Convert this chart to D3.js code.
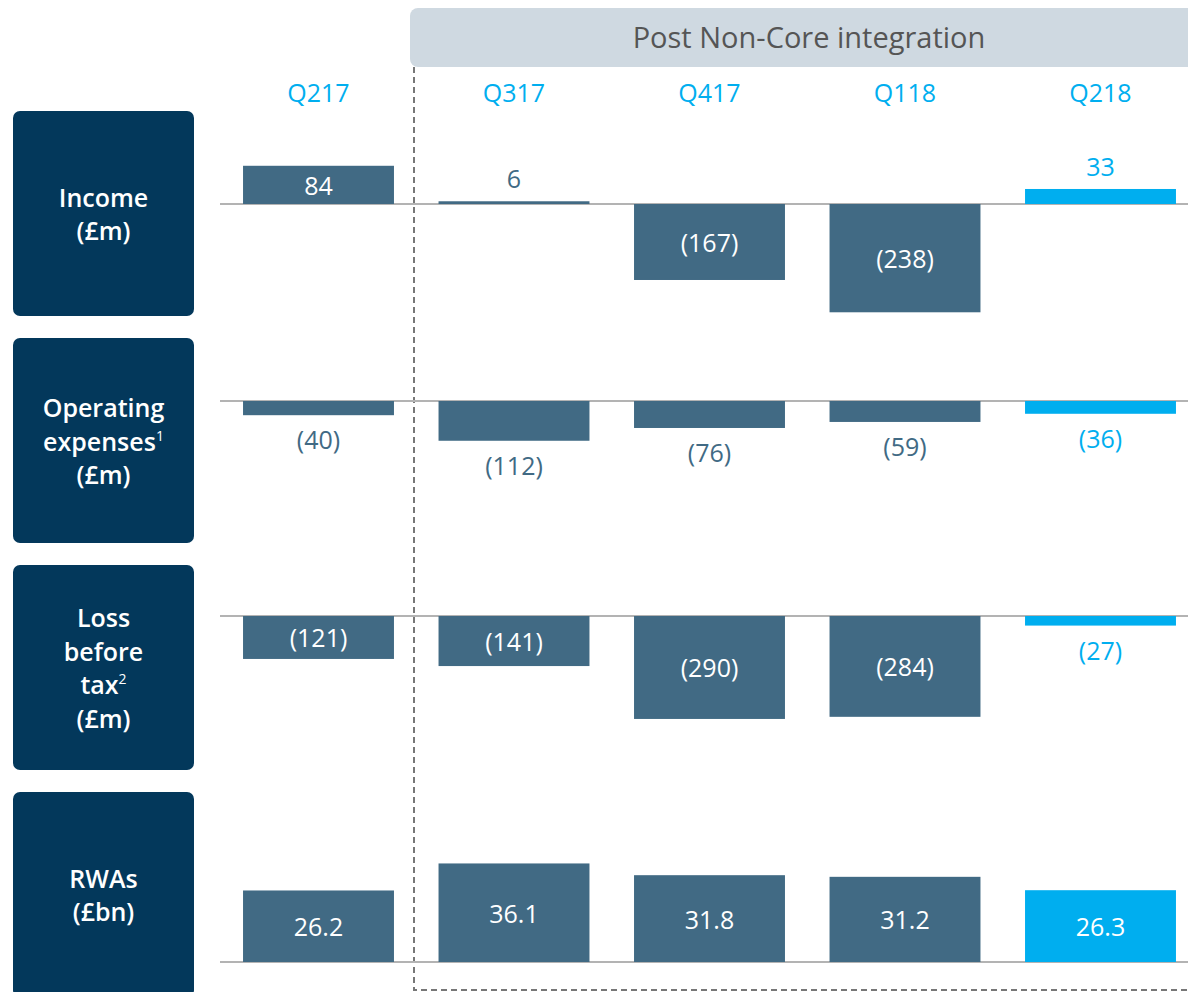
<!DOCTYPE html>
<html>
<head>
<meta charset="utf-8">
<script src="https://cdn.jsdelivr.net/npm/d3@7"></script>
<style>
  html, body { margin: 0; padding: 0; background: white; }
  text { font-family: "Open Sans", "Noto Sans", sans-serif; }
</style>
</head>
<body>
<svg id="chart_svg" width="1188" height="992"></svg>
<script>
var quarters = ['Q217', 'Q317', 'Q417', 'Q118', 'Q218'];
var income = [84, 6, -167, -238, 33];
var opex = [-40, -112, -76, -59, -36];
var lossBeforeTax = [-121, -141, -290, -284, -27];
var rwas = [26.2, 36.1, 31.8, 31.2, 26.3];
var bannerText = 'Post Non-Core integration';

var dark = '#416a84';
var cyan = '#00aeef';
var boxBlue = '#03385b';

function createChart(){
  var svg = d3.select('#chart_svg');
  var width = parseFloat(svg.attr('width'));

  var x = d3.scaleBand().domain(quarters).range([220.75, 1198.25]).paddingInner(0.228).paddingOuter(0.114);

  /* Banner */
  svg.append('rect')
    .attr('x', 410).attr('y', 8).attr('width', width).attr('height', 59).attr('rx', 8).attr('ry', 8)
    .style('fill', '#cfd9e1');
  svg.append('text')
    .attr('x', 809).attr('y', 48)
    .style('text-anchor', 'middle').style('font-size', '29px').style('fill', '#555')
    .text(bannerText);

  /* Dashed frame */
  svg.append('path')
    .attr('d', d3.line()([[414, 67], [414, 990], [width, 990]]))
    .style('fill', 'none').style('stroke', '#777').style('stroke-width', 2).style('stroke-dasharray', '6,4');

  /* Quarter labels */
  svg.selectAll('.qlabel').data(quarters).enter().append('text')
    .attr('class', 'qlabel')
    .attr('x', d => x(d) + x.bandwidth() / 2).attr('y', 102)
    .style('text-anchor', 'middle').style('font-size', '25px').style('fill', cyan)
    .text(d => d);

  var panels = [
    { lines: [['Income'], ['(£m)']], values: income, boxY: 111, base: 204, k: 0.455, minInside: 30, fmt: d3.format('d') },
    { lines: [['Operating'], ['expenses', '1'], ['(£m)']], values: opex, boxY: 338, base: 401, k: 0.355, minInside: Infinity, fmt: d3.format('d') },
    { lines: [['Loss'], ['before'], ['tax', '2'], ['(£m)']], values: lossBeforeTax, boxY: 565, base: 616, k: 0.355, minInside: 30, fmt: d3.format('d') },
    { lines: [['RWAs'], ['(£bn)']], values: rwas, boxY: 792, base: 962, k: 2.73, minInside: 30, fmt: d3.format('.1f') }
  ];

  panels.forEach(p => {
    /* Row label box */
    svg.append('rect')
      .attr('x', 13).attr('y', p.boxY).attr('width', 181).attr('height', 205).attr('rx', 7).attr('ry', 7)
      .style('fill', boxBlue);
    var lh = 33.5;
    var cy = p.boxY + 102.5;
    var firstY = cy - (p.lines.length - 1) * lh / 2;
    p.lines.forEach((ln, i) => {
      var t = svg.append('text')
        .attr('x', 103.5).attr('y', firstY + i * lh)
        .attr('dominant-baseline', 'central')
        .style('text-anchor', 'middle').style('font-size', '25px').style('font-weight', 600).style('fill', 'white');
      t.append('tspan').text(ln[0]);
      if (ln[1]) t.append('tspan').attr('dy', -6).style('font-size', '14px').style('font-weight', 400).text(ln[1]);
    });

    var ext = d3.extent(p.values.concat([0]));
    var y = d3.scaleLinear().domain(ext).range([p.base + (0 - ext[0]) * p.k, p.base - ext[1] * p.k]);

    /* Baseline */
    svg.append('line')
      .attr('x1', 220).attr('x2', width).attr('y1', p.base).attr('y2', p.base)
      .style('stroke', '#b3b3b3').style('stroke-width', 2);

    /* Bars */
    var data = quarters.map((q, i) => ({ q: q, v: p.values[i], last: i === quarters.length - 1 }));
    svg.selectAll(null).data(data).enter().append('rect')
      .attr('x', d => x(d.q)).attr('width', x.bandwidth())
      .attr('y', d => Math.min(y(d.v), y(0)))
      .attr('height', d => Math.abs(y(d.v) - y(0)))
      .style('fill', d => d.last ? cyan : dark);

    /* Value labels */
    svg.selectAll(null).data(data).enter().append('text')
      .attr('x', d => x(d.q) + x.bandwidth() / 2)
      .attr('y', d => {
        var h = Math.abs(y(d.v) - y(0));
        if (h >= p.minInside) return (y(d.v) + y(0)) / 2;
        return d.v >= 0 ? y(d.v) - 23 : y(d.v) + 24;
      })
      .attr('dominant-baseline', 'central')
      .style('text-anchor', 'middle').style('font-size', '25px')
      .style('fill', d => {
        var h = Math.abs(y(d.v) - y(0));
        if (h >= p.minInside) return 'white';
        return d.last ? cyan : dark;
      })
      .text(d => d.v < 0 ? '(' + p.fmt(-d.v) + ')' : p.fmt(d.v));
  });
}

createChart();
</script>
</body>
</html>
